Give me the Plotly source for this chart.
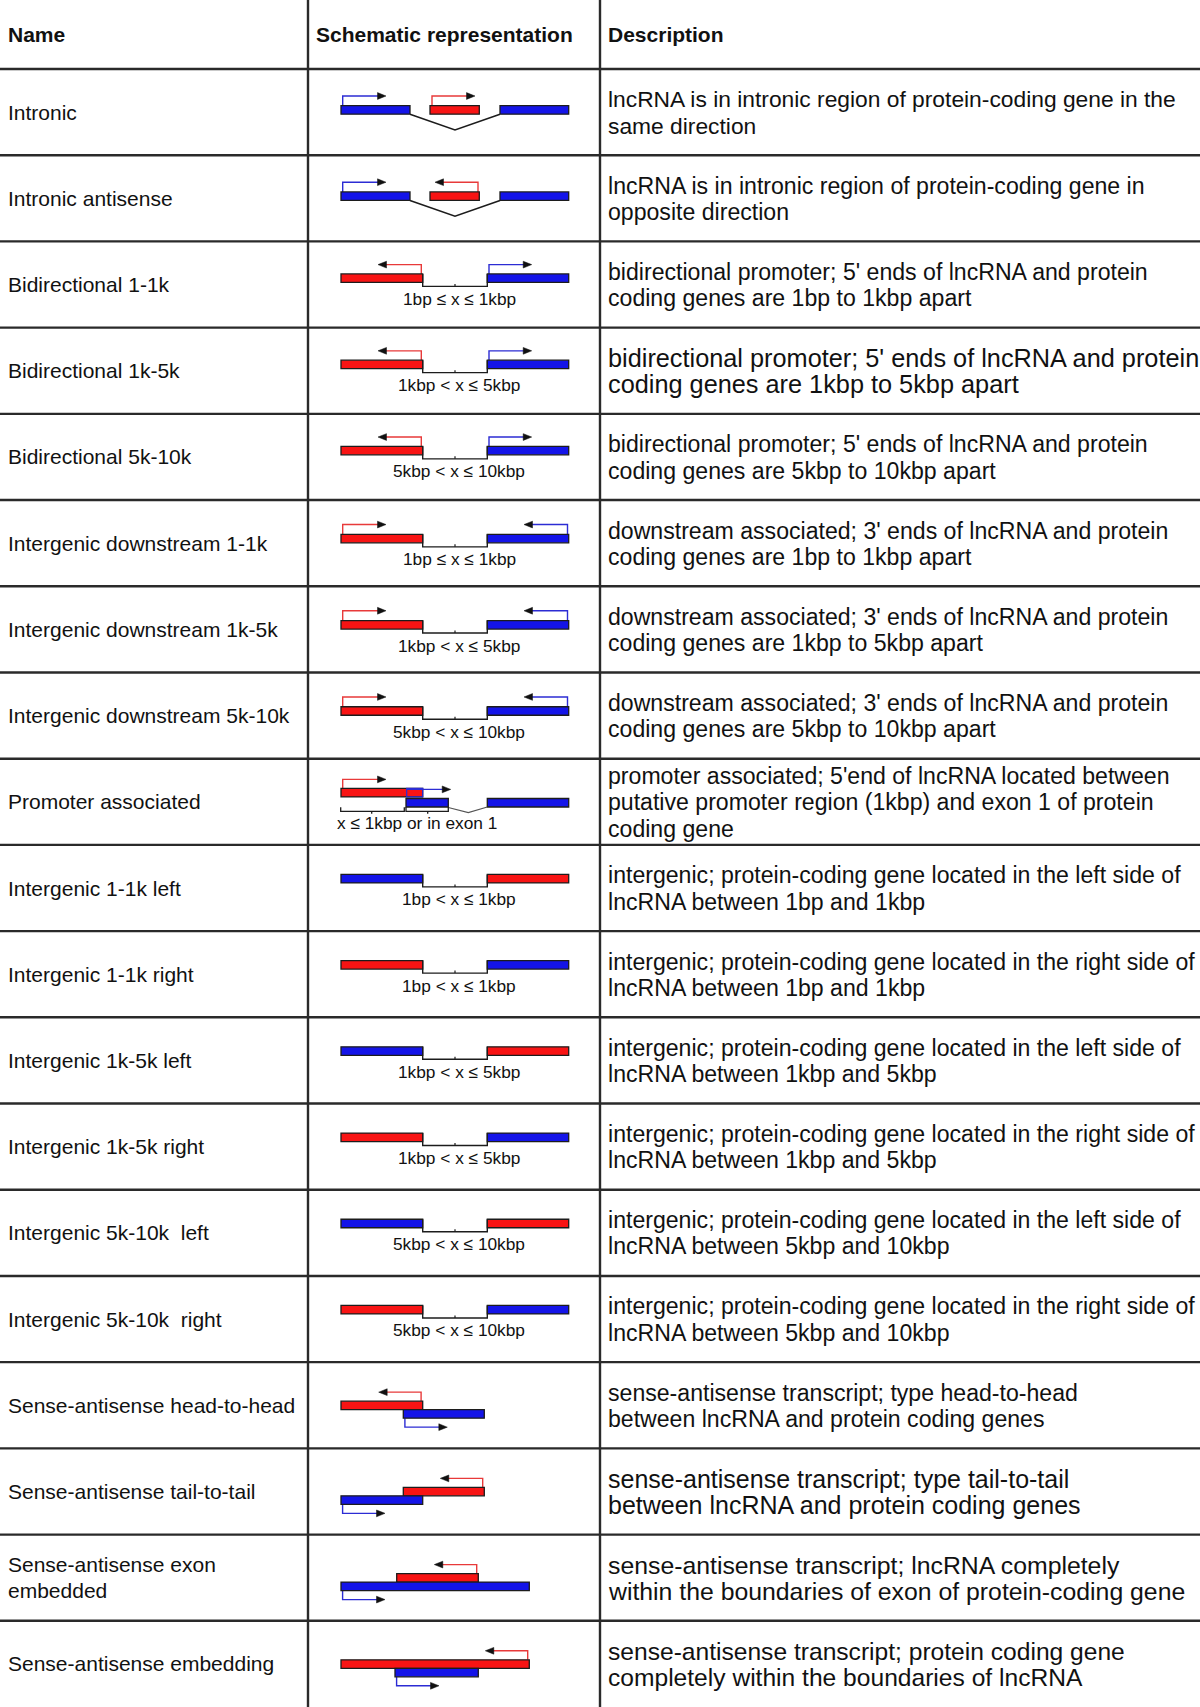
import plotly.graph_objects as go

# Table content
headers = ["Name", "Schematic representation", "Description"]

names = [
    ["Intronic"],
    ["Intronic antisense"],
    ["Bidirectional 1-1k"],
    ["Bidirectional 1k-5k"],
    ["Bidirectional 5k-10k"],
    ["Intergenic downstream 1-1k"],
    ["Intergenic downstream 1k-5k"],
    ["Intergenic downstream 5k-10k"],
    ["Promoter associated"],
    ["Intergenic 1-1k left"],
    ["Intergenic 1-1k right"],
    ["Intergenic 1k-5k left"],
    ["Intergenic 1k-5k right"],
    ["Intergenic 5k-10k\u00a0 left"],
    ["Intergenic 5k-10k\u00a0 right"],
    ["Sense-antisense head-to-head"],
    ["Sense-antisense tail-to-tail"],
    ["Sense-antisense exon", "embedded"],
    ["Sense-antisense embedding"],
]

descriptions = [
    ["lncRNA is in intronic region of protein-coding gene in the", "same direction"],
    ["lncRNA is in intronic region of protein-coding gene in", "opposite direction"],
    ["bidirectional promoter; 5' ends of lncRNA and protein", "coding genes are 1bp to 1kbp apart"],
    ["bidirectional promoter; 5' ends of lncRNA and protein", "coding genes are 1kbp to 5kbp apart"],
    ["bidirectional promoter; 5' ends of lncRNA and protein", "coding genes are 5kbp to 10kbp apart"],
    ["downstream associated; 3' ends of lncRNA and protein", "coding genes are 1bp to 1kbp apart"],
    ["downstream associated; 3' ends of lncRNA and protein", "coding genes are 1kbp to 5kbp apart"],
    ["downstream associated; 3' ends of lncRNA and protein", "coding genes are 5kbp to 10kbp apart"],
    ["promoter associated; 5'end of lncRNA located between",
     "putative promoter region (1kbp) and exon 1 of protein", "coding gene"],
    ["intergenic; protein-coding gene located in the left side of", "lncRNA between 1bp and 1kbp"],
    ["intergenic; protein-coding gene located in the right side of", "lncRNA between 1bp and 1kbp"],
    ["intergenic; protein-coding gene located in the left side of", "lncRNA between 1kbp and 5kbp"],
    ["intergenic; protein-coding gene located in the right side of", "lncRNA between 1kbp and 5kbp"],
    ["intergenic; protein-coding gene located in the left side of", "lncRNA between 5kbp and 10kbp"],
    ["intergenic; protein-coding gene located in the right side of", "lncRNA between 5kbp and 10kbp"],
    ["sense-antisense transcript; type head-to-head", "between lncRNA and protein coding genes"],
    ["sense-antisense transcript; type tail-to-tail", "between lncRNA and protein coding genes"],
    ["sense-antisense transcript; lncRNA completely",
     "within the boundaries of exon of protein-coding gene"],
    ["sense-antisense transcript; protein coding gene",
     "completely within the boundaries of lncRNA"],
]

# description text size per row (some rows in the source are set wider)
desc_sizes = [22.8, 23.1, 23.1, 25.3, 23.1, 23.1, 23.1, 23.1, 23.1, 23.1,
              23.1, 23.1, 23.1, 23.1, 23.1, 23.1, 25.0, 24.8, 24.6]

schematic_kinds = [
    ("intronic", "sense"), ("intronic", "antisense"),
    ("bidirectional", ""), ("bidirectional", ""), ("bidirectional", ""),
    ("downstream", ""), ("downstream", ""), ("downstream", ""),
    ("promoter", ""),
    ("intergenic", "left"), ("intergenic", "right"),
    ("intergenic", "left"), ("intergenic", "right"),
    ("intergenic", "left"), ("intergenic", "right"),
    ("sense", "head-to-head"), ("sense", "tail-to-tail"),
    ("sense", "exon-embedded"), ("sense", "embedding"),
]

gap_labels = [
    "", "",
    "1bp \u2264 x \u2264 1kbp", "1kbp < x \u2264 5kbp", "5kbp < x \u2264 10kbp",
    "1bp \u2264 x \u2264 1kbp", "1kbp < x \u2264 5kbp", "5kbp < x \u2264 10kbp",
    "x \u2264 1kbp or in exon 1",
    "1bp < x \u2264 1kbp", "1bp < x \u2264 1kbp",
    "1kbp < x \u2264 5kbp", "1kbp < x \u2264 5kbp",
    "5kbp < x \u2264 10kbp", "5kbp < x \u2264 10kbp",
    "", "", "", "",
]

# Page geometry
W, H = 1200, 1707
HEADER_H = 69
ROW_H = (H - HEADER_H) / len(names)
COL_X = [308, 600]
FONT = "Liberation Sans, Arial, sans-serif"
TEXT = "#111111"
RED, BLUE = "#f81414", "#1414e8"
RED_LINE, BLUE_LINE = "#e83a3a", "#2c2cd4"
OUTLINE = "#1c1c1c"
BAR_H = 8.5

shapes = []
annotations = []


def add_rect(x0, x1, y0, y1, fill, line=OUTLINE, width=1.3):
    shapes.append(dict(type="rect", xref="x", yref="y", x0=x0, x1=x1, y0=y0, y1=y1,
                       fillcolor=fill, line=dict(color=line, width=width)))


def add_path(pts, color, width=1.3, fill=None, closed=False):
    d = "M " + " L ".join(f"{x:.2f},{y:.2f}" for x, y in pts) + (" Z" if closed else "")
    shape = dict(type="path", xref="x", yref="y", path=d, line=dict(color=color, width=width))
    if fill:
        shape["fillcolor"] = fill
    shapes.append(shape)


def add_arrow(xs, ys, ylev, xe, color):
    # bent transcription-start arrow with a black head
    d = 1 if xe > xs else -1
    add_path([(xs, ys), (xs, ylev), (xe - d * 6, ylev)], color, 1.4)
    add_path([(xe, ylev), (xe - d * 8.5, ylev - 3.4), (xe - d * 8.5, ylev + 3.4)],
             "#111", 0.5, fill="#111", closed=True)


def add_text(x, y, text, size, anchor="left"):
    annotations.append(dict(x=x, y=y, xref="x", yref="y", text=text, showarrow=False,
                            xanchor=anchor, yanchor="middle",
                            font=dict(size=size, color=TEXT, family=FONT)))


def add_lines(x, yc, lines, size, spacing):
    n = len(lines)
    for k, line in enumerate(lines):
        add_text(x, yc + (k - (n - 1) / 2) * spacing, line, size)


# grid
for i in range(len(names)):
    y = HEADER_H + i * ROW_H
    shapes.append(dict(type="line", xref="x", yref="y", x0=0, x1=W, y0=y, y1=y,
                       line=dict(color="#2a2a2a", width=2.4)))
for cx in COL_X:
    shapes.append(dict(type="line", xref="x", yref="y", x0=cx, x1=cx, y0=0, y1=H,
                       line=dict(color="#2a2a2a", width=2.4)))

# header
for x, label in zip([5.5, 314, 605.5], headers):
    add_text(x, 34, f"<b>{label}</b>", 21)

# schematic segment layouts for overlap types (red = lncRNA, blue = gene)
sense_layouts = {
    "head-to-head": ((341, 422.7), (403.3, 484.3)),
    "tail-to-tail": ((403.3, 484.3), (341, 422.7)),
    "exon-embedded": ((396.7, 478.3), (341, 529.3)),
    "embedding": ((341, 529.3), (395, 478.3)),
}
two_block_top = {"bidirectional": 32.5, "downstream": 34.3, "intergenic": 29.5}

for i, (kind, variant) in enumerate(schematic_kinds):
    t = HEADER_H + i * ROW_H
    add_lines(5.5, t + ROW_H / 2, names[i], 21, 26)
    add_lines(605.5, t + ROW_H / 2 + 0.5, descriptions[i], desc_sizes[i], 26.3)

    if kind == "intronic":
        top = t + 36.7
        bot = top + BAR_H
        add_path([(410, bot), (455, t + 61), (500, bot)], OUTLINE, 1.6)
        add_arrow(342.7, top, top - 9.7, 386, BLUE_LINE)
        if variant == "sense":
            add_arrow(432, top, top - 9.7, 475, RED_LINE)
        else:
            add_arrow(478, top, top - 9.7, 435, RED_LINE)
        add_rect(341, 410, top, bot, BLUE)
        add_rect(430, 479.3, top, bot, RED)
        add_rect(500, 568.7, top, bot, BLUE)

    elif kind in two_block_top:
        top = t + two_block_top[kind]
        bot = top + BAR_H
        cb = bot + 4
        add_path([(422.7, top), (422.7, cb), (487.3, cb), (487.3, top)], OUTLINE, 1.4)
        add_path([(455, cb), (455, cb - 2.5)], OUTLINE, 1.2)
        if kind == "bidirectional":
            add_arrow(421.3, top, top - 9.3, 378, RED_LINE)
            add_arrow(489, top, top - 9.3, 531.7, BLUE_LINE)
        elif kind == "downstream":
            add_arrow(342.7, top, top - 9.8, 386, RED_LINE)
            add_arrow(567.5, top, top - 9.8, 524, BLUE_LINE)
        left, right = (BLUE, RED) if variant == "left" else (RED, BLUE)
        add_rect(341, 422.7, top, bot, left)
        add_rect(487.3, 568.7, top, bot, right)
        add_text(459, top + 25, gap_labels[i], 17.3, anchor="center")

    elif kind == "promoter":
        top = t + 29.7
        low = top + BAR_H + 1.6
        add_arrow(342.7, top, top - 9, 386, RED_LINE)
        add_rect(341, 422.7, top, top + BAR_H, RED)
        add_rect(406.7, 422.7, top, top + BAR_H, "rgba(0,0,0,0)", line=BLUE_LINE, width=1.2)
        add_path([(407, top + 1), (446, top + 1)], BLUE_LINE, 1.4)
        add_path([(450.7, top + 1), (442.2, top - 2.4), (442.2, top + 4.4)],
                 "#111", 0.5, fill="#111", closed=True)
        add_rect(406, 448.3, low, low + BAR_H, BLUE)
        add_rect(487.3, 568.7, low, low + BAR_H, BLUE)
        add_path([(448.3, low + BAR_H + 0.6), (468.3, low + BAR_H + 5.6), (487.3, low + BAR_H)],
                 "#555", 1.1)
        yb = low + BAR_H + 4.3
        add_path([(340.7, yb - 4), (340.7, yb), (404.3, yb), (404.3, yb - 4)], OUTLINE, 1.3)
        add_path([(371.7, yb), (371.7, yb + 2.5)], OUTLINE, 1.3)
        add_path([(406, yb - 4.3), (406, yb), (448.3, yb), (448.3, yb - 4.3)], OUTLINE, 1.3)
        add_path([(427.7, yb), (427.7, yb + 2.5)], OUTLINE, 1.3)
        add_text(417.3, t + 64.5, gap_labels[i], 17.3, anchor="center")

    elif kind == "sense":
        (rx0, rx1), (bx0, bx1) = sense_layouts[variant]
        top = t + 39
        mid = top + BAR_H
        bot = mid + BAR_H
        add_arrow(rx1 - 1.6, top, top - 9, rx1 - 44, RED_LINE)
        add_arrow(bx0 + 1.6, bot, bot + 9, bx0 + 44, BLUE_LINE)
        add_rect(rx0, rx1, top, mid, RED)
        add_rect(bx0, bx1, mid, bot, BLUE)

fig = go.Figure(go.Scatter(x=[0, W], y=[0, H], mode="markers",
                           marker=dict(opacity=0), hoverinfo="skip", showlegend=False))
fig.update_layout(
    width=W, height=H,
    margin=dict(l=0, r=0, t=0, b=0),
    paper_bgcolor="white", plot_bgcolor="white",
    xaxis=dict(range=[0, W], visible=False, fixedrange=True),
    yaxis=dict(range=[H, 0], visible=False, fixedrange=True),
    shapes=shapes,
    annotations=annotations,
    showlegend=False,
)

fig.write_html("out.html", config={"displayModeBar": False},
               post_script="document.body.style.margin='0px';")
